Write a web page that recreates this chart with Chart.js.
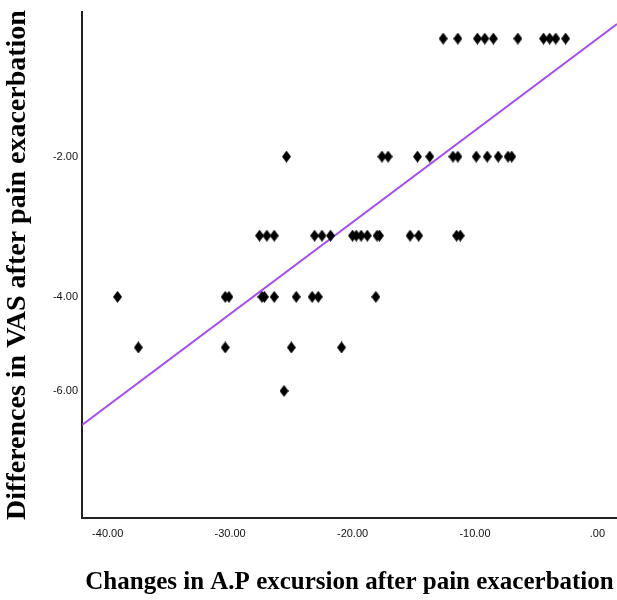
<!DOCTYPE html>
<html>
<head>
<meta charset="utf-8">
<script src="https://cdn.jsdelivr.net/npm/chart.js@4.4.1/dist/chart.umd.min.js"></script>
<style>
  html, body { margin: 0; padding: 0; background: #fff; }
  #wrap { width: 617px; height: 600px; }
</style>
</head>
<body>
<div id="wrap"><canvas id="chart" width="617" height="600"></canvas></div>
<script>
// Changes in A.P excursion (x) and differences in VAS (y), one entry per case
const apChange = [
    -12.6, -11.4, -9.8, -9.2, -8.5, -6.5, -4.4, -3.9, -3.4, -2.6,
    -25.4, -17.6, -17.1, -14.7, -13.7, -11.8, -11.4, -9.9, -9.0, -8.1, -7.3, -7.0,
    -27.6, -27.0, -26.4, -23.1, -22.5, -21.8, -20.0, -19.7, -19.3, -18.8, -18.0, -17.8, -15.3, -14.6, -11.5, -11.2,
    -39.2, -30.4, -30.1, -27.4, -27.2, -26.4, -24.6, -23.3, -22.8, -18.1,
    -37.5, -30.4, -25.0, -20.9,
    -25.6
]
const vasChange = [
    -1, -1, -1, -1, -1, -1, -1, -1, -1, -1,
    -2, -2, -2, -2, -2, -2, -2, -2, -2, -2, -2, -2,
    -3, -3, -3, -3, -3, -3, -3, -3, -3, -3, -3, -3, -3, -3, -3, -3,
    -4, -4, -4, -4, -4, -4, -4, -4, -4, -4,
    -5, -5, -5, -5,
    -6
]

// Fit line end points as they show on the plot
const fitX = [-42.1, 1.6]
const fitY = [-6.88, -0.91]

const xTicks = [-40, -30, -20, -10, 0]
const yTicks = [-2, -4, -6]
const xRange = [-42.1, 1.6]
const yRange = [-9.79, -0.84]

// The printed y axis is not evenly spaced: rows shrink toward the bottom.
// A small scale that spaces values by -(−v)^0.25 reproduces it.
const squash = v => -Math.pow(-v, 0.25)

class VasScale extends Chart.LinearScale {
    getPixelForValue(value) {
        if (value === null || isNaN(value)) return NaN
        const a = squash(this.min)
        const b = squash(this.max)
        return this.getPixelForDecimal((squash(value) - a) / (b - a))
    }
    getValueForPixel(pixel) {
        const a = squash(this.min)
        const b = squash(this.max)
        const t = a + this.getDecimalForPixel(pixel) * (b - a)
        return -Math.pow(-t, 4)
    }
}
VasScale.id = 'vasPower'
VasScale.defaults = Chart.LinearScale.defaults
Chart.register(VasScale)

// Diamond marker, a bit taller than wide like the original
function diamond(w, h) {
    const c = document.createElement('canvas')
    c.width = w
    c.height = h
    const g = c.getContext('2d')
    g.fillStyle = '#000'
    g.beginPath()
    g.moveTo(w / 2, 0)
    g.lineTo(w, h / 2)
    g.lineTo(w / 2, h)
    g.lineTo(0, h / 2)
    g.closePath()
    g.fill()
    return c
}

const tickFont = { family: "'Liberation Sans', Arial", size: 11 }
const serif = "'Liberation Serif', 'Times New Roman', serif"
const fmt = v => v === 0 ? '.00' : v.toFixed(2)

const ctx = document.getElementById('chart').getContext('2d')
new Chart(ctx, {
    type: 'scatter',
    data: {
        datasets: [{
            label: 'Cases',
            data: apChange.map((x, i) => ({ x: x, y: vasChange[i] })),
            pointStyle: diamond(9, 12),
            pointRadius: 5,
            backgroundColor: '#000',
            borderColor: '#000'
        }, {
            type: 'line',
            label: 'Fit',
            data: fitX.map((x, i) => ({ x: x, y: fitY[i] })),
            borderColor: '#a74cf2',
            borderWidth: 2,
            pointRadius: 0,
            fill: false
        }]
    },
    options: {
        responsive: false,
        animation: false,
        layout: { autoPadding: false, padding: { top: 12, left: 0, right: 0, bottom: 0 } },
        plugins: {
            legend: { display: false },
            tooltip: { enabled: false }
        },
        scales: {
            x: {
                type: 'linear',
                min: xRange[0],
                max: xRange[1],
                afterBuildTicks: scale => { scale.ticks = xTicks.map(v => ({ value: v })) },
                afterFit: scale => {
                    scale.height = 82
                    scale.paddingLeft = 0
                    scale.paddingRight = 0
                },
                grid: { display: false, drawTicks: false },
                border: { display: true, color: '#222', width: 2 },
                ticks: { callback: fmt, font: tickFont, color: '#111', padding: 9, maxRotation: 0 },
                title: {
                    display: true,
                    text: 'Changes in A.P excursion after pain exacerbation',
                    font: { family: serif, size: 25, weight: 'bold' },
                    color: '#000',
                    padding: { top: 0, bottom: 2 }
                }
            },
            y: {
                type: 'vasPower',
                min: yRange[0],
                max: yRange[1],
                afterBuildTicks: scale => { scale.ticks = yTicks.map(v => ({ value: v })) },
                afterFit: scale => {
                    scale.width = 82
                    scale.paddingTop = 0
                    scale.paddingBottom = 0
                },
                grid: { display: false, drawTicks: false },
                border: { display: true, color: '#222', width: 2 },
                ticks: { callback: fmt, font: tickFont, color: '#111', padding: 4 },
                title: {
                    display: true,
                    text: 'Differences in VAS after pain exacerbation',
                    font: { family: serif, size: 28, weight: 'bold' },
                    color: '#000',
                    padding: { top: 1, bottom: 0 }
                }
            }
        }
    }
})
</script>
</body>
</html>
